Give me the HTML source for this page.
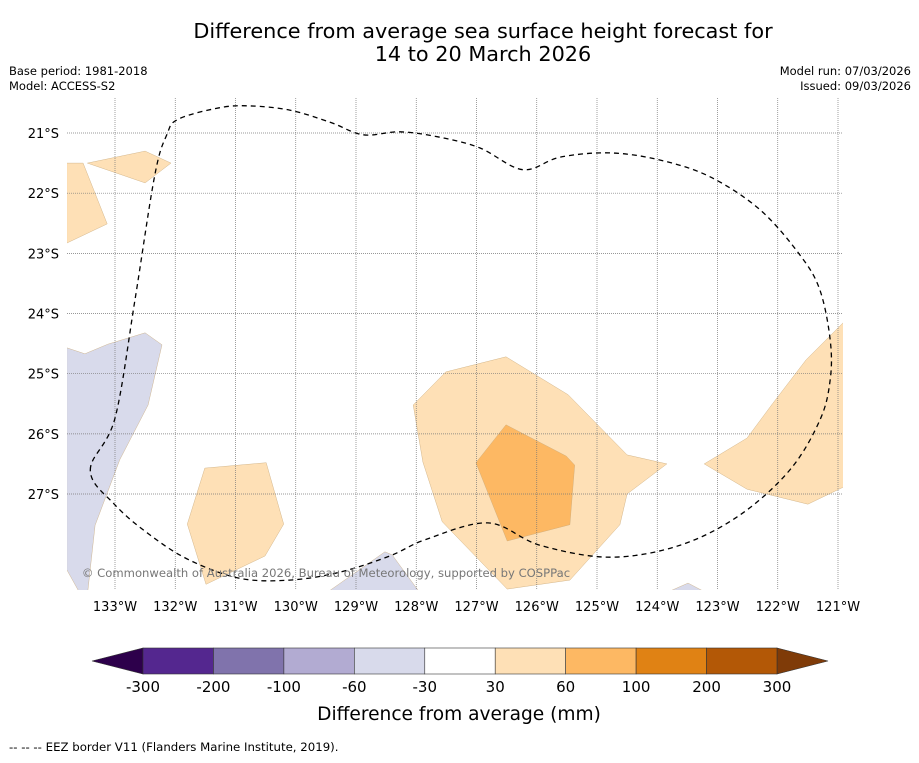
<!DOCTYPE html>
<html><head><meta charset="utf-8"><style>
body{margin:0;background:#fff;font-family:"Liberation Sans","DejaVu Sans",sans-serif}
svg text{font-family:"DejaVu Sans","Liberation Sans",sans-serif}
</style></head><body>
<svg id="c" width="919" height="758" xmlns="http://www.w3.org/2000/svg">
<text x="483" y="38" font-size="20.8" text-anchor="middle">Difference from average sea surface height forecast for</text>
<text x="483" y="61" font-size="20.8" text-anchor="middle">14 to 20 March 2026</text>
<text x="9" y="75" font-size="11.5">Base period: 1981-2018</text>
<text x="9" y="90" font-size="11.5">Model: ACCESS-S2</text>
<text x="911" y="75" font-size="11.5" text-anchor="end">Model run: 07/03/2026</text>
<text x="911" y="90" font-size="11.5" text-anchor="end">Issued: 09/03/2026</text>
<g id="map"></g>
<g id="cb"></g>
<text x="459" y="720" font-size="18.6" text-anchor="middle">Difference from average (mm)</text>
<text x="9" y="751" font-size="11.75">--  --  -- EEZ border V11 (Flanders Marine Institute, 2019).</text>
</svg>
<script>
const NS="http://www.w3.org/2000/svg";
const lonTicks=[-133,-132,-131,-130,-129,-128,-127,-126,-125,-124,-123,-122,-121];
const latTicks=[-21,-22,-23,-24,-25,-26,-27];
const shapeColors=["#d8daeb","#d8daeb","#d8daeb","#fee0b6","#fee0b6","#fee0b6","#fee0b6","#fdb863","#fee0b6"];
const shapeLons=[
[-133.8,-133.5,-133.12,-132.5,-132.22,-132.45,-132.92,-133.33,-133.45,-133.61,-133.8],
[-129.43,-128.52,-128.40,-127.97],
[-123.76,-123.49,-123.26],
[-133.46,-132.50,-132.07,-132.50],
[-133.8,-133.53,-133.13,-133.8],
[-131.51,-130.49,-130.20,-130.51,-131.49,-131.80],
[-128.05,-127.51,-126.51,-125.48,-124.50,-123.84,-124.50,-124.62,-125.45,-126.49,-127.57,-127.89],
[-127.01,-126.51,-125.51,-125.37,-125.45,-126.49],
[-123.22,-122.51,-122.08,-121.53,-120.9,-120.9,-121.50,-122.51]];
const shapeLats=[
[-24.57,-24.67,-24.51,-24.32,-24.52,-25.52,-26.43,-27.52,-28.6,-28.6,-28.26],
[-28.6,-27.96,-28.01,-28.6],
[-28.6,-28.48,-28.6],
[-21.50,-21.30,-21.50,-21.83],
[-21.50,-21.50,-22.51,-22.83],
[-26.57,-26.48,-27.50,-28.03,-28.50,-27.50],
[-25.52,-24.97,-24.72,-25.35,-26.35,-26.50,-27.00,-27.51,-28.43,-28.58,-27.46,-26.47],
[-26.48,-25.85,-26.37,-26.52,-27.51,-27.78],
[-26.50,-26.07,-25.49,-24.77,-24.14,-26.88,-27.17,-26.92]];
const eezLons=[-133.41,-133.00,-132.67,-132.34,-132.14,-131.95,-131.26,-130.76,-130.10,-129.43,-128.88,-128.27,-127.61,-126.94,-126.23,-125.61,-124.78,-123.95,-123.12,-122.29,-121.63,-121.30,-121.13,-121.13,-121.30,-121.80,-122.63,-123.62,-124.78,-125.95,-126.81,-127.85,-128.44,-129.27,-130.10,-130.93,-131.76,-132.42,-133.00,-133.41];
const eezLats=[-26.60,-25.74,-23.78,-21.70,-21.03,-20.77,-20.58,-20.55,-20.62,-20.82,-21.03,-20.98,-21.07,-21.25,-21.61,-21.40,-21.33,-21.45,-21.73,-22.28,-23.03,-23.61,-24.44,-25.10,-25.77,-26.60,-27.35,-27.85,-28.05,-27.85,-27.48,-27.76,-28.03,-28.30,-28.43,-28.40,-28.10,-27.68,-27.18,-26.60];
const cbColors=["#54278f","#8073ac","#b2abd2","#d8daeb","#ffffff","#fee0b6","#fdb863","#e08214","#b35806"];
const cbLabels=["-300","-200","-100","-60","-30","30","60","100","200","300"];
const X=lon=>115+(lon+133)*60.25, Y=lat=>133+(-21-lat)*60.17;
function mk(t,a,p){const e=document.createElementNS(NS,t);for(const k in a)e.setAttribute(k,a[k]);p.appendChild(e);return e;}
const map=document.getElementById('map');
const cp=mk('clipPath',{id:'clip'},map);mk('rect',{x:67,y:98,width:776,height:492},cp);
const g=mk('g',{'clip-path':'url(#clip)'},map);
shapeLons.forEach((ls,i)=>{const pts=ls.map((l,j)=>X(l).toFixed(1)+','+Y(shapeLats[i][j]).toFixed(1)).join(' ');
const p=mk('polygon',{points:pts,fill:shapeColors[i],stroke:'#c8a878','stroke-width':0.4},g);

});
lonTicks.forEach(l=>{const x=X(l);mk('line',{x1:x,x2:x,y1:98,y2:590,stroke:'#777','stroke-width':0.7,'stroke-dasharray':'1,1'},g);
const t=mk('text',{x:x,y:611,'font-size':13,'text-anchor':'middle'},map);t.textContent=Math.abs(l)+'°W';

});
latTicks.forEach(l=>{const y=Y(l);mk('line',{x1:67,x2:843,y1:y,y2:y,stroke:'#777','stroke-width':0.7,'stroke-dasharray':'1,1'},g);
const t=mk('text',{x:59,y:y+5,'font-size':13,'text-anchor':'end'},map);t.textContent=Math.abs(l)+'°S';

});
const P=eezLons.slice(0,-1).map((l,j)=>[X(l),Y(eezLats[j])]);const n=P.length;
let d='M'+P[0][0].toFixed(1)+','+P[0][1].toFixed(1);
for(let i=0;i<n;i++){const p0=P[(i-1+n)%n],p1=P[i],p2=P[(i+1)%n],p3=P[(i+2)%n];
d+=' C'+(p1[0]+(p2[0]-p0[0])/6).toFixed(1)+','+(p1[1]+(p2[1]-p0[1])/6).toFixed(1)+' '+(p2[0]-(p3[0]-p1[0])/6).toFixed(1)+','+(p2[1]-(p3[1]-p1[1])/6).toFixed(1)+' '+p2[0].toFixed(1)+','+p2[1].toFixed(1);}
const eez=mk('path',{d:d,fill:'none',stroke:'#000','stroke-width':1.3,'stroke-dasharray':'5,4'},g);


const cr=mk('text',{x:326,y:577,'font-size':11.6,'text-anchor':'middle',fill:'#777'},map);cr.textContent='© Commonwealth of Australia 2026, Bureau of Meteorology, supported by COSPPac';


const cb=document.getElementById('cb');const x0=143,w=(777-143)/9;
mk('polygon',{points:'92,661 143,648 143,674',fill:'#2d004b',stroke:'#333','stroke-width':0.6},cb);
mk('polygon',{points:'828,661 777,648 777,674',fill:'#7f3b08',stroke:'#333','stroke-width':0.6},cb);
cbColors.forEach((c,i)=>{const r=mk('rect',{x:x0+i*w,y:648,width:w,height:26,fill:c,stroke:'#333','stroke-width':0.6},cb);

});
cbLabels.forEach((s,i)=>{const t=mk('text',{x:x0+i*w,y:692,'font-size':15,'text-anchor':'middle'},cb);t.textContent=s;

});
</script>
</body></html>
